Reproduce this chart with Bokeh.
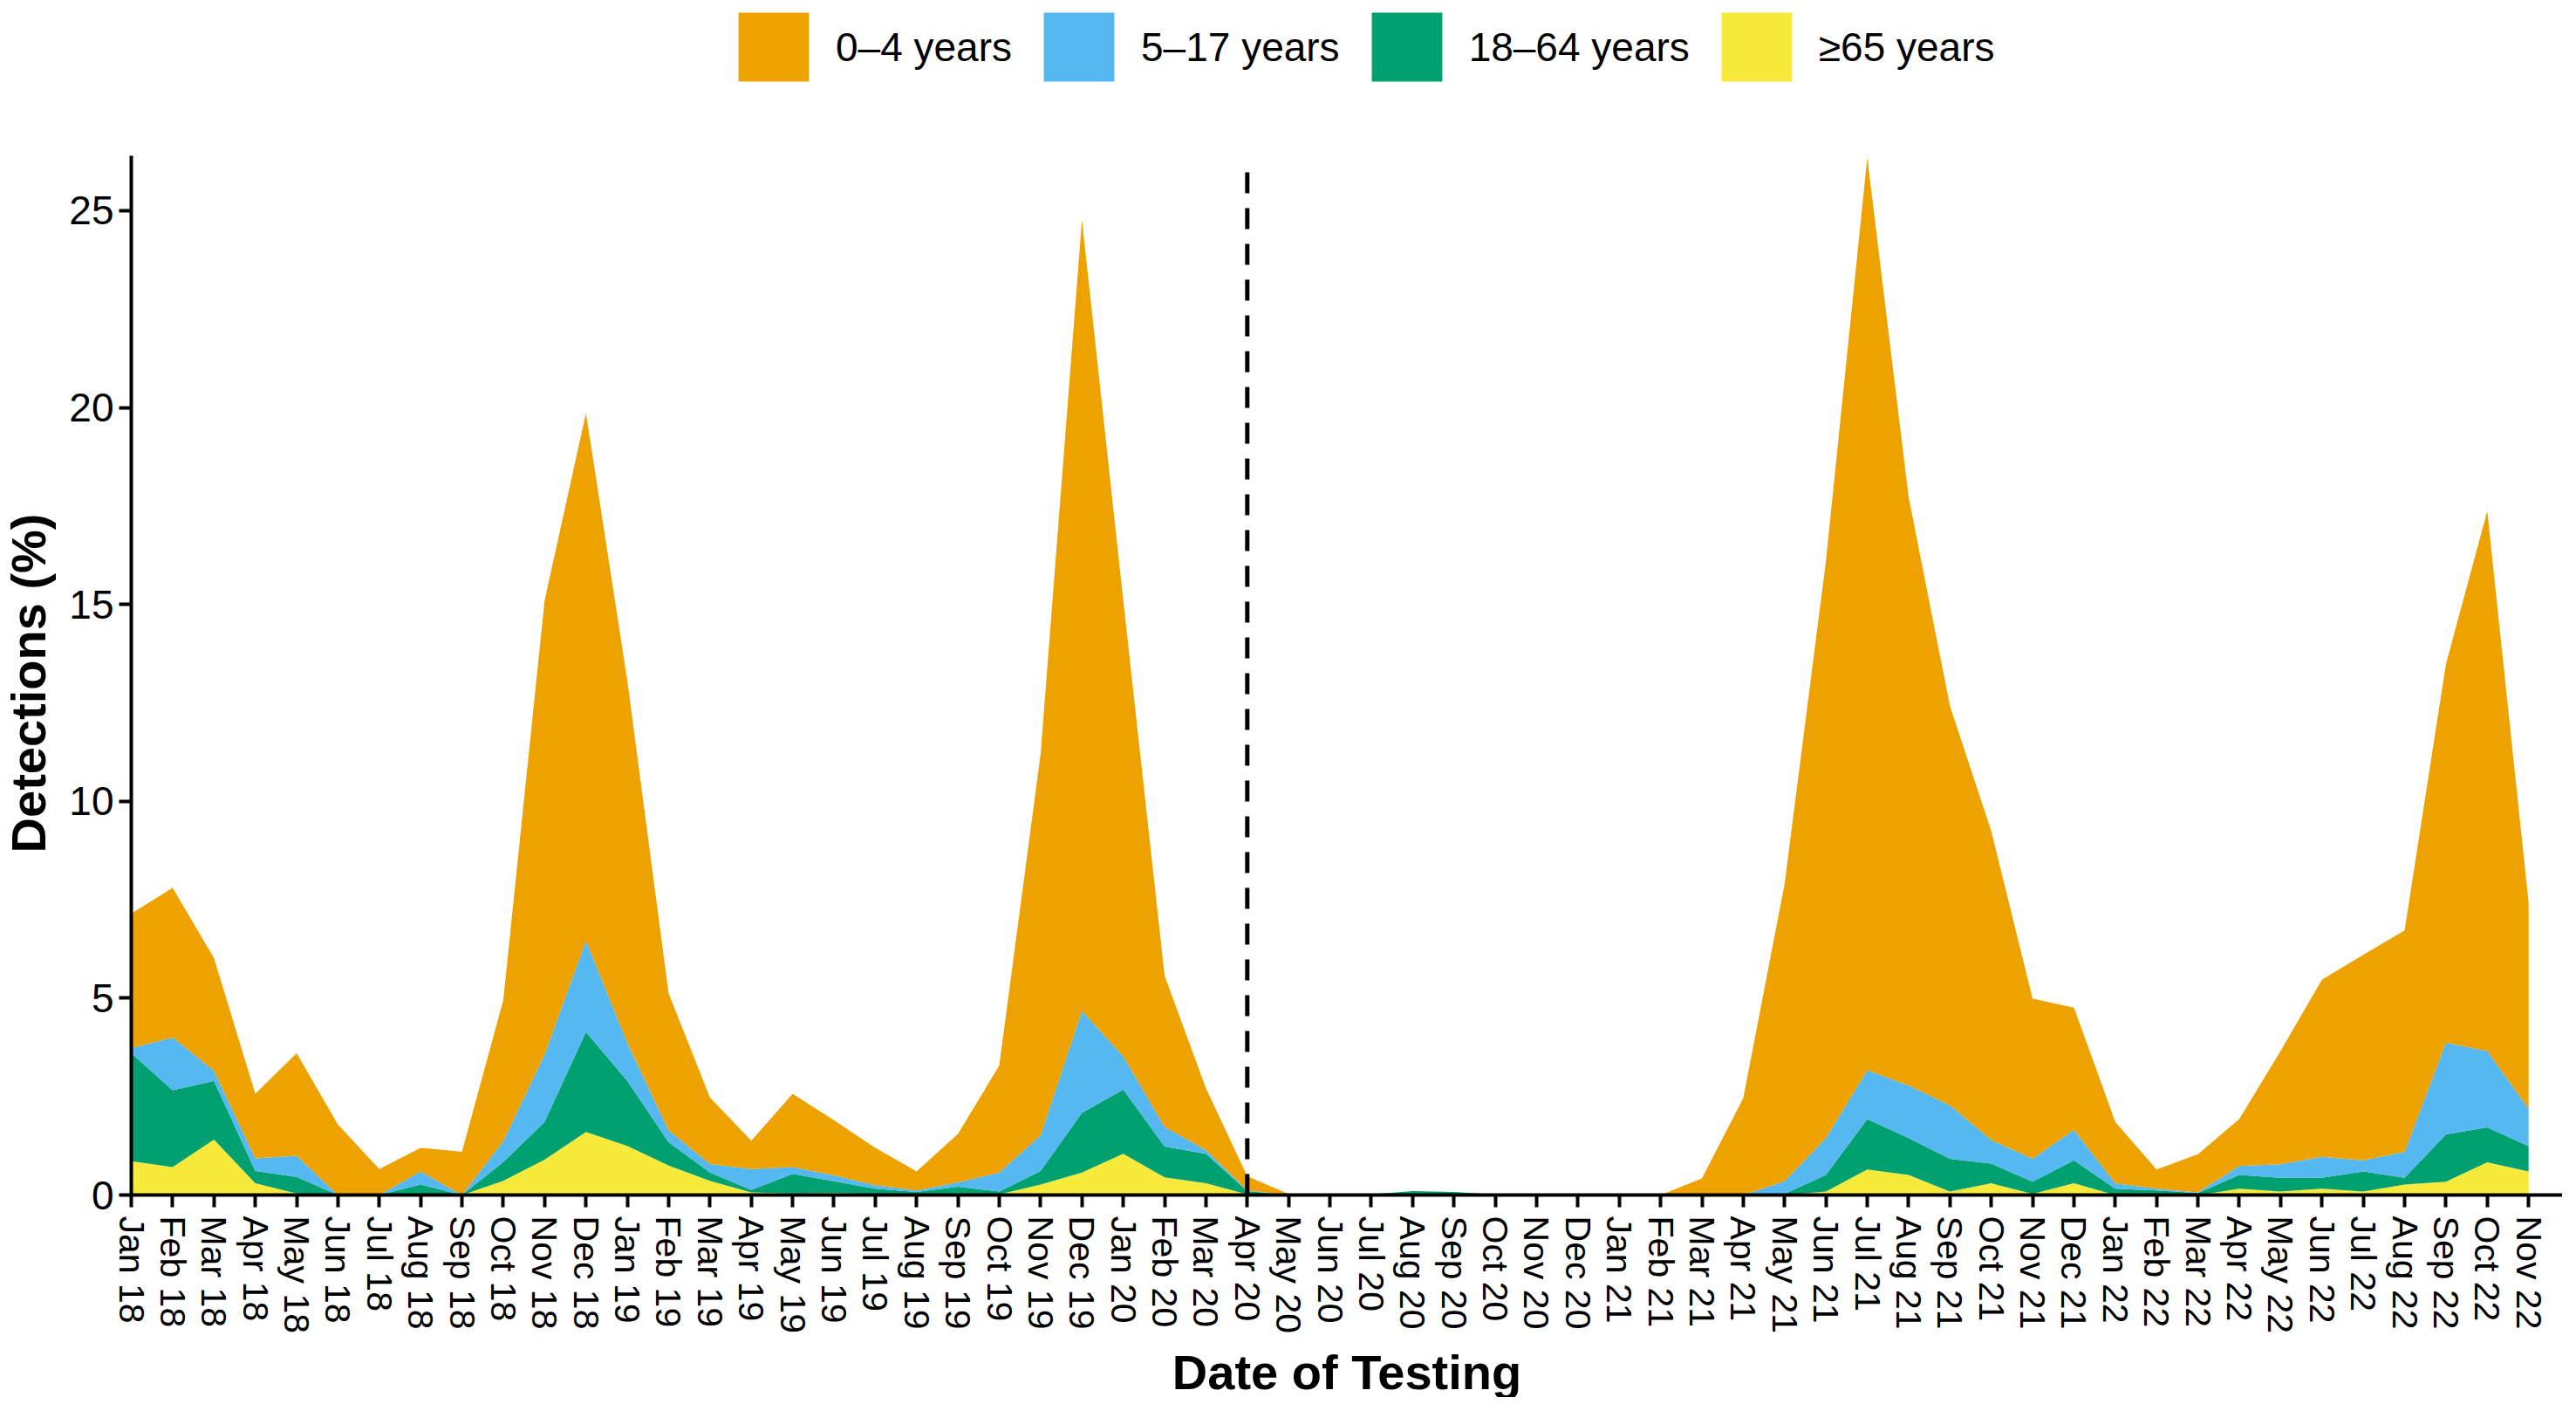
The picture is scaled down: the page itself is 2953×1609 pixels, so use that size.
import math
from bokeh.plotting import figure
from bokeh.models import Range1d, FixedTicker, Legend, LegendItem, ColumnDataSource, Label
from bokeh.embed import file_html
from bokeh.resources import INLINE

months = ["Jan 18", "Feb 18", "Mar 18", "Apr 18", "May 18", "Jun 18", "Jul 18", "Aug 18", "Sep 18", "Oct 18", "Nov 18", "Dec 18",
          "Jan 19", "Feb 19", "Mar 19", "Apr 19", "May 19", "Jun 19", "Jul 19", "Aug 19", "Sep 19", "Oct 19", "Nov 19", "Dec 19",
          "Jan 20", "Feb 20", "Mar 20", "Apr 20", "May 20", "Jun 20", "Jul 20", "Aug 20", "Sep 20", "Oct 20", "Nov 20", "Dec 20",
          "Jan 21", "Feb 21", "Mar 21", "Apr 21", "May 21", "Jun 21", "Jul 21", "Aug 21", "Sep 21", "Oct 21", "Nov 21", "Dec 21",
          "Jan 22", "Feb 22", "Mar 22", "Apr 22", "May 22", "Jun 22", "Jul 22", "Aug 22", "Sep 22", "Oct 22", "Nov 22"]

# detections (%) per age group, stacked from bottom (>=65) to top (0-4)
age_65_plus = [0.86, 0.71, 1.41, 0.30, 0.04, 0, 0, 0, 0, 0.36,
               0.90, 1.60, 1.25, 0.75, 0.36, 0.07, 0.04, 0.05, 0.03, 0.02,
               0.04, 0.02, 0.27, 0.57, 1.05, 0.45, 0.30, 0.02, 0, 0,
               0, 0, 0, 0, 0, 0, 0, 0, 0, 0,
               0, 0.09, 0.65, 0.51, 0.09, 0.30, 0.03, 0.30, 0, 0,
               0, 0.16, 0.09, 0.16, 0.09, 0.27, 0.34, 0.83, 0.60]
age_18_64 = [2.74, 1.95, 1.49, 0.31, 0.42, 0, 0, 0.27, 0, 0.48,
             0.96, 2.54, 1.65, 0.59, 0.21, 0.06, 0.50, 0.30, 0.13, 0.06,
             0.17, 0.07, 0.34, 1.52, 1.63, 0.78, 0.75, 0.08, 0, 0,
             0.02, 0.10, 0.08, 0.02, 0, 0, 0, 0, 0, 0,
             0.03, 0.42, 1.28, 0.94, 0.83, 0.50, 0.31, 0.58, 0.16, 0.12,
             0.05, 0.35, 0.35, 0.28, 0.51, 0.17, 1.20, 0.89, 0.64]
age_5_17 = [0.13, 1.34, 0.26, 0.32, 0.54, 0, 0, 0.33, 0, 0.53,
            1.71, 2.32, 0.97, 0.30, 0.22, 0.53, 0.17, 0.15, 0.09, 0.04,
            0.11, 0.48, 0.91, 2.59, 0.84, 0.50, 0.09, 0.02, 0, 0,
            0, 0, 0, 0, 0, 0, 0, 0, 0, 0,
            0.32, 0.94, 1.24, 1.33, 1.36, 0.60, 0.58, 0.78, 0.14, 0.04,
            0.02, 0.23, 0.34, 0.53, 0.28, 0.66, 2.33, 1.94, 0.95]
age_0_4 = [3.42, 3.80, 2.86, 1.64, 2.60, 1.79, 0.66, 0.60, 1.10, 3.58,
           11.53, 13.40, 9.20, 3.48, 1.69, 0.72, 1.86, 1.40, 0.95, 0.48,
           1.23, 2.72, 9.68, 20.09, 11.58, 3.84, 1.57, 0.36, 0.03, 0,
           0, 0, 0, 0, 0, 0, 0, 0, 0.42, 2.46,
           7.55, 14.65, 23.18, 14.95, 10.14, 7.84, 4.07, 3.10, 1.56, 0.49,
           0.97, 1.19, 2.88, 4.50, 5.22, 5.62, 9.61, 13.71, 5.24]

series_keys = ["age_65_plus", "age_18_64", "age_5_17", "age_0_4"]
series_labels = ["\u226565 years", "18\u201364 years", "5\u201317 years", "0\u20134 years"]
series_colors = ["#F8EA3A", "#00A070", "#55B8F0", "#EEA200"]

x_title = "Date of Testing"
y_title = "Detections (%)"
marker_month = "Apr 20"
marker_top = 26.0
y_ticks = [0, 5, 10, 15, 20, 25]
y_axis_top = 26.4
x_axis_end = 58.82

FONT = "Liberation Sans"

src = ColumnDataSource(dict(x=list(range(len(months))), age_65_plus=age_65_plus, age_18_64=age_18_64,
                            age_5_17=age_5_17, age_0_4=age_0_4))

# the frame fills the whole canvas; both axes are pinned at 0 and the space
# left of / below them holds their labels, the space above the data holds the legend
p = figure(width=2937, height=1601, output_backend="svg", toolbar_location=None,
           x_range=Range1d(-3.166, x_axis_end), y_range=Range1d(-5.14, 30.34),
           min_border_left=0, min_border_right=0, min_border_top=0, min_border_bottom=0)
p.outline_line_color = None
p.xgrid.grid_line_color = None
p.ygrid.grid_line_color = None
p.background_fill_color = "white"

rs = p.varea_stack(stackers=series_keys, x="x", color=series_colors, source=src)

mi = months.index(marker_month)
p.line(x=[mi, mi], y=[0, marker_top], line_color="black", line_width=5, line_dash="24 17")

for ax in (p.xaxis[0], p.yaxis[0]):
    ax.axis_line_width = 4
    ax.axis_line_color = "black"
    ax.major_tick_line_width = 4
    ax.major_tick_line_color = "black"
    ax.major_tick_out = 14
    ax.major_tick_in = 0
    ax.minor_tick_line_color = None
    ax.major_label_text_font = FONT
    ax.major_label_text_color = "black"
    ax.fixed_location = 0

p.xaxis.bounds = (0, x_axis_end)
p.xaxis.ticker = FixedTicker(ticks=list(range(len(months))))
p.xaxis.major_label_overrides = {i: m for i, m in enumerate(months)}
p.xaxis.major_label_orientation = "vertical"
p.xaxis.major_label_text_font_size = "41px"
p.xaxis.major_label_standoff = 10

p.yaxis.ticker = FixedTicker(ticks=y_ticks)
p.yaxis.bounds = (0, y_axis_top)
p.yaxis.major_label_text_font_size = "46px"
p.yaxis.major_label_standoff = 6

p.add_layout(Label(x=x_axis_end / 2, y=-4.5, text=x_title, text_align="center", text_baseline="alphabetic",
                   text_font=FONT, text_font_style="bold", text_font_size="56px", text_color="black"))
p.add_layout(Label(x=-2.49, y=13.0, text=y_title, angle=math.pi / 2, text_align="center", text_baseline="middle",
                   text_font=FONT, text_font_style="bold", text_font_size="56px", text_color="black"))

items = [LegendItem(label=lab, renderers=[r]) for lab, r in zip(series_labels, rs)][::-1]
legend = Legend(items=items, orientation="horizontal", location=(836, 1498),
                glyph_width=101, glyph_height=99, label_standoff=21, spacing=26,
                padding=0, margin=0, border_line_color=None, background_fill_alpha=0,
                label_text_font=FONT, label_text_font_size="46px", label_text_color="black")
p.add_layout(legend)

open("out.html", "w").write(file_html(p, INLINE))
